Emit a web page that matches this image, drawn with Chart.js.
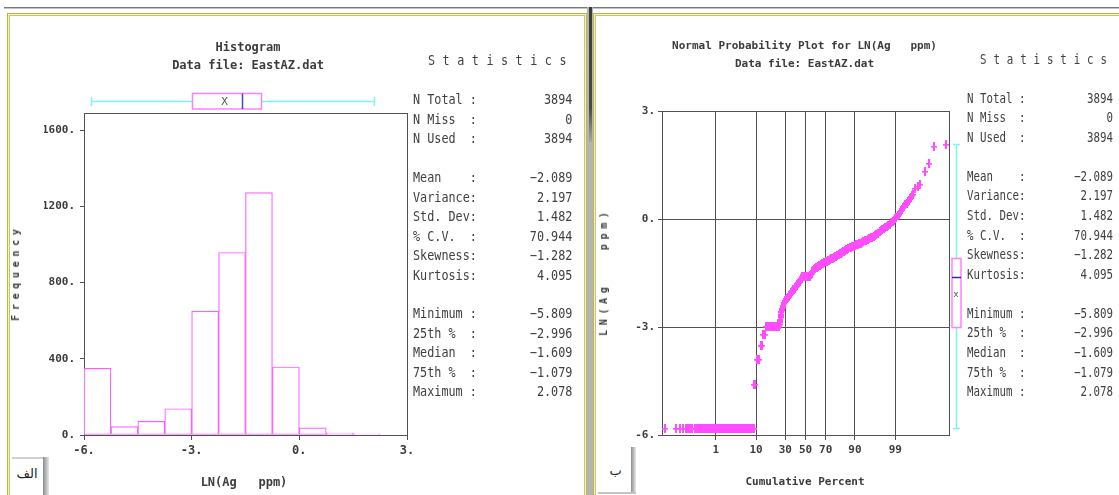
<!DOCTYPE html>
<html>
<head>
<meta charset="utf-8">
<title>EastAZ.dat - LN(Ag ppm)</title>
<script src="https://cdn.jsdelivr.net/npm/chart.js@4.4.1/dist/chart.umd.min.js"></script>
<style>
  html, body { margin: 0; padding: 0; background: #fff; }
  body { position: relative; width: 1119px; height: 495px; overflow: hidden;
         font-family: "DejaVu Sans Mono", monospace; color: #3c3c3c; }
  .abs { position: absolute; }
  .frame { position: absolute; border: 1px solid #b9b94a; background: #f2f2c6; }
  .frame > .inner { position: absolute; left: 1px; top: 1px; right: 1px; bottom: 1px;
                    border: 1px solid #c9c95c; background: #fff; }
  canvas { position: absolute; }
  .title { position: absolute; width: 400px; text-align: center; font-weight: bold;
           white-space: pre; line-height: 18px; }
  .vtitle { position: absolute; font-weight: bold; font-size: 10px; white-space: pre;
            letter-spacing: 4.7px; padding-left: 4.7px; line-height: 12px;
            transform: translate(-50%, -50%) rotate(-90deg); }
  .stats { position: absolute; font-size: 13.5px; transform-origin: 0 0; white-space: pre;
           width: 182.6px; color: #404040; }
  .stats .row { position: relative; }
  .stats .lab { position: absolute; left: 0; top: 0; }
  .stats .val { position: absolute; right: 0; top: 0; }
  .head { position: absolute; font-size: 13.5px; letter-spacing: 8.6px; transform-origin: 0 0;
          white-space: pre; line-height: 20px; color: #404040; }
  .tag { position: absolute; font-family: "DejaVu Sans", sans-serif; font-size: 13px;
         color: #222; text-align: center; line-height: 20px; }
</style>
</head>
<body>

<!-- window chrome -->
<div class="abs" style="left:4px;top:7px;width:1115px;height:1px;background:#7a7a7a"></div>
<div class="abs" style="left:4px;top:8px;width:1115px;height:1px;background:#c2c2c2"></div>
<div class="frame" style="left:7px;top:13px;width:578px;height:500px"><div class="inner"></div></div>
<div class="frame" style="left:593px;top:13px;width:600px;height:500px"><div class="inner"></div></div>
<div class="abs" style="left:587px;top:7px;width:6px;height:488px;background:#b4b4b4"></div>
<div class="abs" style="left:589px;top:7px;width:3px;height:135px;background:linear-gradient(#3a3a3a,#4a4a4a 75%,#a8a8a8)"></div>

<!-- panel tags -->
<div class="abs" style="left:12px;top:457px;width:32px;height:2px;background:#d0d0d0"></div>
<div class="abs" style="left:43px;top:457px;width:6px;height:38px;background:linear-gradient(to right,#8c8c8c,#e8e8e8)"></div>
<div class="tag" style="left:10px;top:464px;width:34px">الف</div>
<div class="abs" style="left:631px;top:447px;width:5px;height:46px;background:linear-gradient(to right,#8c8c8c,#e8e8e8)"></div>
<div class="abs" style="left:598px;top:492px;width:38px;height:2px;background:#c4c4c4"></div>
<div class="tag" style="left:600px;top:461px;width:31px">ب</div>

<canvas id="hist" width="420" height="495" style="left:0;top:0;width:420px;height:495px"></canvas>
<canvas id="prob" width="526" height="495" style="left:593px;top:0;width:526px;height:495px"></canvas>

<div id="texts"></div>

<script>
// ---------------- histogram of LN(Ag ppm) ----------------
const binEdges  = [-6, -5.25, -4.5, -3.75, -3, -2.25, -1.5, -0.75, 0, 0.75, 1.5, 2.25];
const binCounts = [350, 44, 72, 138, 650, 958, 1272, 357, 37, 10, 6];
const lnTicks   = [-6, -3, 0, 3];
const freqTicks = [0, 400, 800, 1200, 1600];

// ---------------- summary statistics ----------------
const statNames  = ['N Total :', 'N Miss  :', 'N Used  :', '',
                    'Mean    :', 'Variance:', 'Std. Dev:', '% C.V.  :', 'Skewness:', 'Kurtosis:', '',
                    'Minimum :', '25th %  :', 'Median  :', '75th %  :', 'Maximum :'];
const statValues = [3894, 0, 3894, null,
                    -2.089, 2.197, 1.482, 70.944, -1.282, 4.095, null,
                    -5.809, -2.996, -1.609, -1.079, 2.078];
const boxSummary = { min: statValues[11], q1: statValues[12], median: statValues[13],
                     q3: statValues[14], max: statValues[15], mean: statValues[4] };

// ---------------- normal probability plot: [cumulative %, LN(Ag)] ----------------
const lowerTail = [
  [0.013,-5.809],[0.038,-5.809],[0.056,-5.809],[0.074,-5.809],[0.094,-5.809],[0.114,-5.809],
  [0.139,-5.809],[0.169,-5.809],[0.205,-5.809],[0.24,-5.809],[0.30,-5.809],[0.33,-5.809],
  [0.36,-5.809],[0.40,-5.809],[0.43,-5.809],[0.47,-5.809],[0.5,-5.809],[0.55,-5.809],[0.6,-5.809],
  [0.66,-5.809],[0.72,-5.809],[0.79,-5.809],[0.86,-5.809],[0.93,-5.809],[1.0,-5.809],[1.1,-5.809],
  [1.2,-5.809],[1.3,-5.809],[1.4,-5.809],[1.52,-5.809],[1.65,-5.809],[1.77,-5.809],[1.9,-5.809],
  [2.05,-5.809],[2.2,-5.809],[2.4,-5.809],[2.6,-5.809],[2.8,-5.809],[3.0,-5.809],[3.25,-5.809],
  [3.5,-5.809],[3.75,-5.809],[4.0,-5.809],[4.3,-5.809],[4.6,-5.809],[4.9,-5.809],[5.2,-5.809],
  [5.55,-5.809],[5.9,-5.809],[6.25,-5.809],[6.6,-5.809],[7.0,-5.809],[7.4,-5.809],[7.8,-5.809],
  [8.2,-5.809],[8.55,-5.809],[8.9,-5.809]
];
const steps = [
  [9.2,-4.605],[9.7,-4.605],
  [10.3,-3.912],[10.8,-3.912],[11.4,-3.912],
  [12.2,-3.507],[12.7,-3.507],[13.1,-3.507],
  [13.8,-3.219],[14.3,-3.219],[14.8,-3.219],
  [15.4,-2.996],[16.0,-2.996],[16.6,-2.996],[17.2,-2.996],[17.9,-2.996],[18.5,-2.996],[19.2,-2.996],
  [19.9,-2.996],[20.6,-2.996],[21.3,-2.996],[22.1,-2.996],[22.8,-2.996],[23.5,-2.996],[24.2,-2.996],
  [25.0,-2.996]
];
const middle = [
  [25.3,-2.92],[25.45,-2.885],[25.6,-2.85],[25.7,-2.815],[25.8,-2.78],[25.9,-2.745],[26.0,-2.71],
  [26.15,-2.675],[26.3,-2.64],[26.45,-2.605],[26.6,-2.57],[26.85,-2.54],[27.1,-2.51],[27.35,-2.48],
  [27.6,-2.45],[27.95,-2.42],[28.3,-2.39],[28.75,-2.36],[29.2,-2.33],[29.7,-2.30],[30.2,-2.27],
  [30.75,-2.245],[31.3,-2.22],[31.9,-2.195],[32.5,-2.17],[33.15,-2.145],[33.8,-2.12],[34.4,-2.095],
  [35.0,-2.07],[35.65,-2.045],[36.3,-2.02],[36.95,-1.995],[37.6,-1.97],[38.25,-1.945],[38.9,-1.92],
  [39.55,-1.90],[40.2,-1.88],[40.85,-1.855],[41.5,-1.83],[42.1,-1.805],[42.7,-1.78],[43.3,-1.755],
  [43.9,-1.73],[44.5,-1.705],[45.1,-1.68],[45.65,-1.66],[46.2,-1.64],
  [46.7,-1.609],[47.2,-1.609],[47.8,-1.609],[48.5,-1.609],[49.2,-1.609],[50.0,-1.609],[50.7,-1.609],
  [51.5,-1.609],[52.2,-1.609],[53.0,-1.609],[53.7,-1.609],[54.5,-1.609],
  [55.0,-1.58],[55.5,-1.55],[56.2,-1.51],[57.0,-1.47],[57.9,-1.44],[58.8,-1.41],[59.8,-1.385],
  [60.8,-1.36],[61.8,-1.34],[62.8,-1.32],[63.8,-1.30],[64.8,-1.28],[65.8,-1.26],[66.8,-1.24],
  [67.8,-1.225],[68.8,-1.21],[69.8,-1.19],[70.8,-1.17],[71.8,-1.155],[72.8,-1.14],[73.8,-1.12],
  [74.8,-1.10],[75.8,-1.085],[76.8,-1.07],[77.8,-1.05],[78.7,-1.03],[79.6,-1.01],[80.5,-0.99],
  [81.3,-0.97],[82.0,-0.95],[82.7,-0.93],[83.3,-0.91]
];
const upperTail = [
  [84.0,-0.89],[84.6,-0.87],[85.3,-0.855],[86.0,-0.84],[86.7,-0.82],[87.4,-0.80],[88.1,-0.785],
  [88.8,-0.77],[89.4,-0.755],[90.0,-0.74],[90.6,-0.72],[91.2,-0.70],[91.8,-0.685],[92.3,-0.67],
  [92.8,-0.65],[93.3,-0.63],[93.8,-0.61],[94.3,-0.59],[94.7,-0.57],[95.1,-0.55],[95.45,-0.525],
  [95.8,-0.50],[96.1,-0.475],[96.4,-0.45],[96.7,-0.42],[97.0,-0.39],[97.25,-0.36],[97.5,-0.33],
  [97.7,-0.30],[97.9,-0.27],[98.08,-0.24],[98.25,-0.21],[98.4,-0.175],[98.55,-0.14],[98.68,-0.105],
  [98.8,-0.07],[98.9,-0.03],[99.0,0.01],[99.08,0.05],[99.15,0.09],[99.22,0.135],[99.28,0.18],
  [99.34,0.225],[99.39,0.27],[99.44,0.31],[99.48,0.35],[99.52,0.395],[99.56,0.44],[99.6,0.48],
  [99.63,0.52],[99.66,0.56],[99.69,0.60],[99.72,0.64],[99.74,0.68],
  [99.78,0.85],[99.825,0.90],[99.856,0.96],[99.903,1.31],[99.930,1.53],[99.958,2.01],[99.986,2.078]
];
const percentTicks = [1, 10, 30, 50, 70, 90, 99];
const percentRange = [0.01, 99.99];
const probLnTicks  = [-6, -3, 0, 3];

// inverse of the standard normal CDF (Acklam), used to lay out the probability axis
function probit(p) {
  const a = [-3.969683028665376e+01, 2.209460984245205e+02, -2.759285104469687e+02, 1.383577518672690e+02, -3.066479806614716e+01, 2.506628277459239e+00];
  const b = [-5.447609879822406e+01, 1.615858368580409e+02, -1.556989798598866e+02, 6.680131188771972e+01, -1.328068155288572e+01];
  const c = [-7.784894002430293e-03, -3.223964580411365e-01, -2.400758277161838e+00, -2.549732539343734e+00, 4.374664141464968e+00, 2.938163982698783e+00];
  const d = [7.784695709041462e-03, 3.224671290700398e-01, 2.445134137142996e+00, 3.754408661907416e+00];
  const pl = 0.02425;
  let q, r;
  if (p < pl) {
    q = Math.sqrt(-2 * Math.log(p));
    return (((((c[0]*q+c[1])*q+c[2])*q+c[3])*q+c[4])*q+c[5]) / ((((d[0]*q+d[1])*q+d[2])*q+d[3])*q+1);
  }
  if (p <= 1 - pl) {
    q = p - 0.5; r = q * q;
    return (((((a[0]*r+a[1])*r+a[2])*r+a[3])*r+a[4])*r+a[5])*q / (((((b[0]*r+b[1])*r+b[2])*r+b[3])*r+b[4])*r+1);
  }
  q = Math.sqrt(-2 * Math.log(1 - p));
  return -(((((c[0]*q+c[1])*q+c[2])*q+c[3])*q+c[4])*q+c[5]) / ((((d[0]*q+d[1])*q+d[2])*q+d[3])*q+1);
}

// ---------------- text blocks ----------------
const texts = document.getElementById('texts');
function addTitle(str, cx, cy, size) {
  const el = document.createElement('div');
  el.className = 'title';
  el.textContent = str;
  el.style.fontSize = size + 'px';
  el.style.left = (cx - 200) + 'px';
  el.style.top = (cy - 9) + 'px';
  texts.appendChild(el);
}
function addVTitle(str, cx, cy) {
  const el = document.createElement('div');
  el.className = 'vtitle';
  el.textContent = str;
  el.style.left = cx + 'px';
  el.style.top = cy + 'px';
  texts.appendChild(el);
}
function fmtStat(v, i) {
  if (v === null) return '';
  const s = i < 3 ? String(v) : v.toFixed(3);
  return s.replace('-', '\u2212');
}
function addStats(left, top, lineH, sx, headLeft, headTop) {
  const head = document.createElement('div');
  head.className = 'head';
  head.textContent = 'Statistics';
  head.style.left = headLeft + 'px';
  head.style.top = headTop + 'px';
  head.style.transform = 'scaleX(' + sx + ')';
  texts.appendChild(head);

  const box = document.createElement('div');
  box.className = 'stats';
  box.style.left = left + 'px';
  box.style.top = top + 'px';
  box.style.transform = 'scaleX(' + sx + ')';
  statNames.forEach((name, i) => {
    const row = document.createElement('div');
    row.className = 'row';
    row.style.height = lineH + 'px';
    row.style.lineHeight = lineH + 'px';
    const lab = document.createElement('span');
    lab.className = 'lab';
    lab.textContent = name;
    const val = document.createElement('span');
    val.className = 'val';
    val.textContent = fmtStat(statValues[i], i);
    row.appendChild(lab);
    row.appendChild(val);
    box.appendChild(row);
  });
  texts.appendChild(box);
}

addTitle('Histogram', 248, 47, 12);
addTitle('Data file: EastAZ.dat', 248, 65, 12);
addTitle('LN(Ag   ppm)', 244, 482, 12);
addVTitle('Frequency', 16, 275);
addStats(413.3, 90.3, 19.47, 0.873, 428, 50);

addTitle('Normal Probability Plot for LN(Ag   ppm)', 804.5, 45.7, 11);
addTitle('Data file: EastAZ.dat', 804.5, 63.8, 11);
addTitle('Cumulative Percent', 805, 481.7, 11);
addVTitle('LN(Ag   ppm)', 603.5, 274);
addStats(967.3, 88.5, 19.58, 0.80, 980, 49);

// ---------------- charts ----------------
Chart.defaults.font.family = "'DejaVu Sans Mono', monospace";
Chart.defaults.color = '#3c3c3c';

const AXIS = '#505050';

const framePlugin = {
  id: 'plotFrame',
  beforeDatasetsDraw(chart) {
    const { ctx, chartArea: a } = chart;
    ctx.save();
    ctx.strokeStyle = AXIS;
    ctx.lineWidth = 1;
    ctx.strokeRect(Math.round(a.left) + 0.5, Math.round(a.top) + 0.5,
                   Math.round(a.right - a.left), Math.round(a.bottom - a.top));
    ctx.restore();
    ctx.imageSmoothingEnabled = false;
  }
};

function seg(ctx, x1, y1, x2, y2) {
  ctx.beginPath(); ctx.moveTo(x1, y1); ctx.lineTo(x2, y2); ctx.stroke();
}

// horizontal box-and-whisker above the histogram
const histBoxPlugin = {
  id: 'histBox',
  afterDraw(chart) {
    const ctx = chart.ctx, xs = chart.scales.x, top = chart.chartArea.top;
    const px = v => Math.round(xs.getPixelForValue(v)) + 0.5;
    const yc = Math.round(top - 12) + 0.5;
    ctx.save();
    ctx.lineWidth = 1.5;
    ctx.strokeStyle = '#7ff4f4';
    seg(ctx, px(boxSummary.min), yc, px(boxSummary.q1), yc);
    seg(ctx, px(boxSummary.q3), yc, px(boxSummary.max), yc);
    seg(ctx, px(boxSummary.min), yc - 4.5, px(boxSummary.min), yc + 4.5);
    seg(ctx, px(boxSummary.max), yc - 4.5, px(boxSummary.max), yc + 4.5);
    ctx.fillStyle = '#ffffff';
    ctx.strokeStyle = '#ff80ff';
    const bt = yc - 8, bb = yc + 7.5;
    ctx.fillRect(px(boxSummary.q1), bt, px(boxSummary.q3) - px(boxSummary.q1), bb - bt);
    ctx.strokeRect(px(boxSummary.q1), bt, px(boxSummary.q3) - px(boxSummary.q1), bb - bt);
    ctx.strokeStyle = '#4646cc';
    seg(ctx, px(boxSummary.median), bt, px(boxSummary.median), bb);
    ctx.fillStyle = '#555';
    ctx.font = "11px 'DejaVu Sans Mono'";
    ctx.textAlign = 'center';
    ctx.textBaseline = 'middle';
    ctx.fillText('X', px(boxSummary.mean), yc + 0.5);
    ctx.restore();
  }
};

// vertical box-and-whisker beside the probability plot
const probBoxPlugin = {
  id: 'probBox',
  afterDraw(chart) {
    const ctx = chart.ctx, ys = chart.scales.y, right = chart.chartArea.right;
    const py = v => Math.round(ys.getPixelForValue(v)) + 0.5;
    const xc = Math.round(right + 8) - 0.5;
    ctx.save();
    ctx.lineWidth = 1.5;
    ctx.strokeStyle = '#7ff4f4';
    seg(ctx, xc, py(boxSummary.max), xc, py(boxSummary.q3));
    seg(ctx, xc, py(boxSummary.q1), xc, py(boxSummary.min));
    seg(ctx, xc - 3.5, py(boxSummary.max), xc + 3.5, py(boxSummary.max));
    seg(ctx, xc - 3.5, py(boxSummary.min), xc + 3.5, py(boxSummary.min));
    ctx.fillStyle = '#ffffff';
    ctx.strokeStyle = '#ff80ff';
    const bl = xc - 4.5, br = xc + 4.5;
    ctx.fillRect(bl, py(boxSummary.q3), br - bl, py(boxSummary.q1) - py(boxSummary.q3));
    ctx.strokeRect(bl, py(boxSummary.q3), br - bl, py(boxSummary.q1) - py(boxSummary.q3));
    ctx.strokeStyle = '#2a2ab0';
    seg(ctx, bl, py(boxSummary.median), br, py(boxSummary.median));
    ctx.fillStyle = '#555';
    ctx.font = "9px 'DejaVu Sans Mono'";
    ctx.textAlign = 'center';
    ctx.textBaseline = 'middle';
    ctx.fillText('x', xc - 0.5, py(boxSummary.mean));
    ctx.restore();
  }
};

new Chart(document.getElementById('hist'), {
  type: 'bar',
  data: {
    datasets: [{
      data: binCounts.map((n, i) => ({ x: (binEdges[i] + binEdges[i + 1]) / 2, y: n })),
      backgroundColor: '#ffffff',
      borderColor: '#ff5cff',
      borderWidth: 1.2,
      borderSkipped: false,
      barPercentage: 1,
      categoryPercentage: 1
    }]
  },
  options: {
    responsive: false, animation: false, devicePixelRatio: 1,
    layout: { padding: { left: 44, right: 13, top: 113, bottom: 30 } },
    plugins: { legend: { display: false }, tooltip: { enabled: false } },
    scales: {
      x: {
        type: 'linear', min: lnTicks[0], max: lnTicks[lnTicks.length - 1], offset: false, bounds: 'data',
        afterFit: s => { s.height = 30; },
        afterBuildTicks: s => { s.ticks = lnTicks.map(v => ({ value: v })); },
        ticks: { callback: v => v + '.', font: { size: 12, weight: 'bold' }, padding: 4,
                 autoSkip: false, maxRotation: 0 },
        grid: { drawOnChartArea: false, tickLength: 5, color: AXIS, offset: false },
        border: { color: AXIS }
      },
      y: {
        min: 0, max: 1690,
        afterFit: s => { s.width = 40; },
        afterBuildTicks: s => { s.ticks = freqTicks.map(v => ({ value: v })); },
        ticks: { callback: v => v + '.', font: { size: 11, weight: 'bold' }, padding: 5 },
        grid: { drawOnChartArea: false, tickLength: 4, color: AXIS },
        border: { color: AXIS }
      }
    }
  },
  plugins: [framePlugin, histBoxPlugin]
});

// small "+" marker, taller than wide
const crossMark = document.createElement('canvas');
crossMark.width = 6; crossMark.height = 9;
(() => {
  const g = crossMark.getContext('2d');
  g.fillStyle = '#ff4cff';
  g.fillRect(2, 0, 2, 9);
  g.fillRect(0, 4, 6, 1);
  g.globalAlpha = 0.6;
  g.fillRect(0, 5, 6, 1);
})();

const probPoints = [...lowerTail, ...steps, ...middle, ...upperTail];

new Chart(document.getElementById('prob'), {
  type: 'scatter',
  data: {
    datasets: [{
      data: probPoints.map(([p, v]) => ({ x: probit(p / 100), y: v })),
      pointStyle: crossMark,
      pointRadius: 4,
      pointHoverRadius: 4
    }]
  },
  options: {
    responsive: false, animation: false, devicePixelRatio: 1,
    layout: { padding: { left: 39, right: 170, top: 111, bottom: 30 } },
    plugins: { legend: { display: false }, tooltip: { enabled: false } },
    scales: {
      x: {
        type: 'linear', bounds: 'data',
        min: probit(percentRange[0] / 100), max: probit(percentRange[1] / 100),
        afterFit: s => { s.height = 30; },
        afterBuildTicks: s => { s.ticks = percentTicks.map(p => ({ value: probit(p / 100) })); },
        ticks: { callback: (v, i) => String(percentTicks[i]), font: { size: 11, weight: 'bold' }, padding: 4,
                 autoSkip: false, maxRotation: 0 },
        grid: { color: AXIS, tickLength: 5 },
        border: { color: AXIS }
      },
      y: {
        min: probLnTicks[0], max: probLnTicks[probLnTicks.length - 1],
        afterFit: s => { s.width = 30; },
        afterBuildTicks: s => { s.ticks = probLnTicks.map(v => ({ value: v })); },
        ticks: { callback: v => v + '.', font: { size: 11, weight: 'bold' }, padding: 3 },
        grid: { color: AXIS, tickLength: 4 },
        border: { color: AXIS }
      }
    }
  },
  plugins: [framePlugin, probBoxPlugin]
});
</script>
</body>
</html>
